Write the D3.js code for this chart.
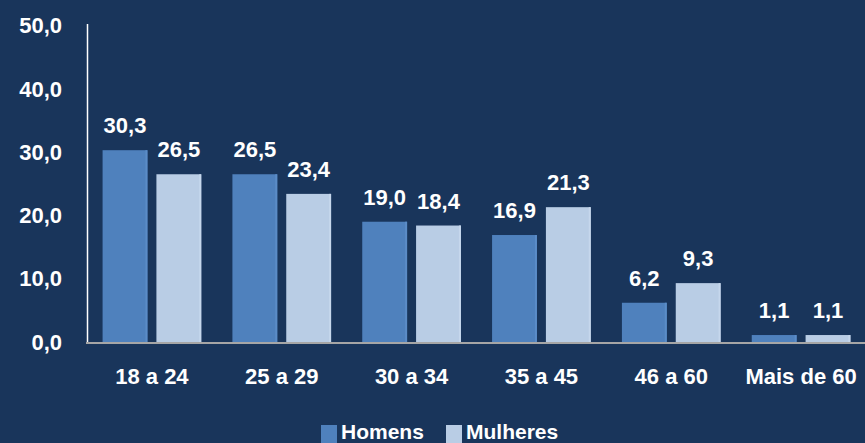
<!DOCTYPE html>
<html>
<head>
<meta charset="utf-8">
<script src="https://cdn.jsdelivr.net/npm/d3@7"></script>
<style>
  html, body { margin: 0; padding: 0; background: #19355b; }
  svg { display: block; }
  text { font-family: "Liberation Sans", Arial, sans-serif; font-weight: bold; fill: #fff; }
</style>
</head>
<body>
<div id="chart"></div>
<script>
  var categories = ["18 a 24", "25 a 29", "30 a 34", "35 a 45", "46 a 60", "Mais de 60"];
  var seriesNames = ["Homens", "Mulheres"];
  var homens = [30.3, 26.5, 19.0, 16.9, 6.2, 1.1];
  var mulheres = [26.5, 23.4, 18.4, 21.3, 9.3, 1.1];
  var yTicks = [0, 10, 20, 30, 40, 50];

  var colors = {Homens: "#4f81bd", Mulheres: "#b9cde5"};
  var edge = {Homens: "#5b8cc7", Mulheres: "#c6d7ec"};

  var width = 865, height = 443;
  var fmt = v => d3.format(".1f")(v).replace(".", ",");

  var svg = d3.select("#chart").append("svg")
      .attr("width", width)
      .attr("height", height);

  svg.append("rect")
      .attr("width", width)
      .attr("height", height)
      .attr("fill", "#19355b");

  var x0 = d3.scaleBand()
      .domain(categories)
      .range([87, 866])
      .paddingInner(0.24)
      .paddingOuter(0.12);

  var x1 = d3.scaleBand()
      .domain(seriesNames)
      .range([0, x0.bandwidth()])
      .paddingInner(0.167);

  var y = d3.scaleLinear()
      .domain([0, 50])
      .range([342, 25.5]);

  var rows = categories.map((c, i) => ({cat: c, Homens: homens[i], Mulheres: mulheres[i]}));

  // y axis labels
  svg.append("g").selectAll("text")
    .data(yTicks)
    .enter().append("text")
      .attr("x", 62)
      .attr("y", d => y(d))
      .attr("dy", "0.35em")
      .attr("text-anchor", "end")
      .style("font-size", "22px")
      .text(fmt);

  // bars
  var group = svg.append("g").selectAll("g")
    .data(rows)
    .enter().append("g")
      .attr("transform", d => "translate(" + x0(d.cat) + ",0)");

  var bars = group.selectAll("g")
    .data(d => seriesNames.map(s => ({s: s, v: d[s]})))
    .enter().append("g");

  bars.append("rect")
      .attr("x", d => x1(d.s))
      .attr("y", d => y(d.v))
      .attr("width", x1.bandwidth())
      .attr("height", d => y(0) - y(d.v))
      .attr("fill", d => colors[d.s]);

  // lighter right edge like the original
  bars.append("rect")
      .attr("x", d => x1(d.s) + x1.bandwidth() - 2)
      .attr("y", d => y(d.v))
      .attr("width", 2)
      .attr("height", d => y(0) - y(d.v))
      .attr("fill", d => edge[d.s]);

  bars.append("text")
      .attr("x", d => x1(d.s) + x1.bandwidth() / 2)
      .attr("y", d => y(d.v) - 17)
      .attr("text-anchor", "middle")
      .style("font-size", "22px")
      .text(d => fmt(d.v));

  // axis lines
  svg.append("line")
      .attr("x1", 87.5).attr("x2", 87.5)
      .attr("y1", 24).attr("y2", 342)
      .attr("stroke", "#fff")
      .attr("stroke-width", 1.5);

  svg.append("line")
      .attr("x1", 86).attr("x2", width)
      .attr("y1", 343).attr("y2", 343)
      .attr("stroke", "#a6a6a6")
      .attr("stroke-width", 2);

  // category labels
  svg.append("g").selectAll("text")
    .data(categories)
    .enter().append("text")
      .attr("x", d => x0(d) + x0.bandwidth() / 2)
      .attr("y", 384)
      .attr("text-anchor", "middle")
      .style("font-size", "22px")
      .text(d => d);

  // legend
  var legend = svg.append("g").selectAll("g")
    .data(seriesNames)
    .enter().append("g")
      .attr("transform", (d, i) => "translate(" + [321, 446][i] + ",425)");

  legend.append("rect")
      .attr("width", 16)
      .attr("height", 18)
      .attr("fill", d => colors[d]);

  legend.append("text")
      .attr("x", 20)
      .attr("y", 14)
      .style("font-size", "21px")
      .text(d => d);
</script>
</body>
</html>
